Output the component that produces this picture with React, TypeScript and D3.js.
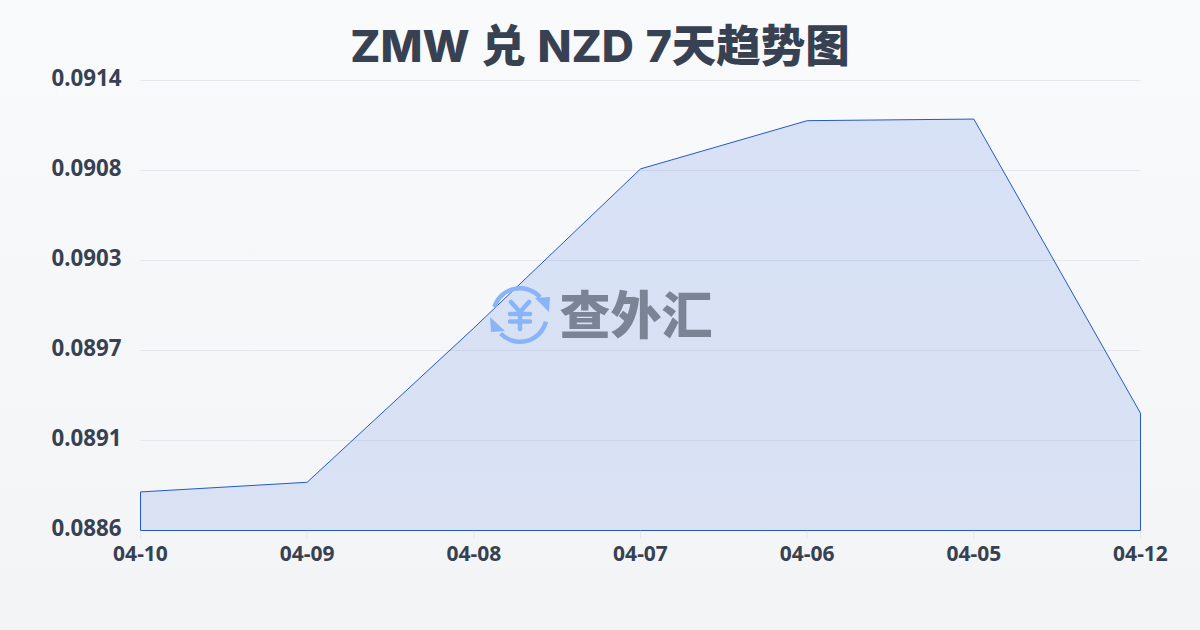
import React from "react";
import * as d3 from "d3";

const categories = ["04-10", "04-09", "04-08", "04-07", "04-06", "04-05", "04-12"];
const rates = [0.08884, 0.0889, 0.08986, 0.09085, 0.09115, 0.09116, 0.08933];
const yTickLabels = ["0.0914", "0.0908", "0.0903", "0.0897", "0.0891", "0.0886"];
const yTickValues = [0.0914, 0.09084, 0.09028, 0.08972, 0.08916, 0.0886];
const titleText = "ZMW 兑 NZD 7天趋势图";
const watermarkText = "查外汇";

const W = 1200, H = 630;
const LEFT = 140.5, RIGHT = 1140.5, TOP = 80.5, BOTTOM = 530.5;
const TITLE_FONT = "Inter, 'Noto Sans CJK SC', sans-serif";
const FONT = "'Noto Sans', sans-serif";

export default function App() {
  const x = d3.scalePoint<string>().domain(categories).range([LEFT, RIGHT]);
  const y = d3.scaleLinear().domain([0.0886, 0.0914]).range([BOTTOM, TOP]);
  const pts = categories.map((c, i) => ({ c, v: rates[i] }));
  const area = d3.area<{ c: string; v: number }>()
    .x((d) => x(d.c)!)
    .y0(BOTTOM)
    .y1((d) => y(d.v))(pts)!;
  const outline = `${area}Z`;

  const ring = d3.arc();
  const arcA = ring({ innerRadius: 24.5, outerRadius: 29, startAngle: -1.27, endAngle: 0.85, cornerRadius: 2.2 })!;
  const arcB = ring({ innerRadius: 24.5, outerRadius: 29, startAngle: 1.82, endAngle: 3.95, cornerRadius: 2.2 })!;

  return (
    <svg width={W} height={H} viewBox={`0 0 ${W} ${H}`}
      style={{ position: "fixed", left: 0, top: 0, display: "block" }}>
      <defs>
        <linearGradient id="bg" x1="0" y1="0" x2="0" y2="1">
          <stop offset="0" stopColor="#f9fafc" />
          <stop offset="1" stopColor="#f3f4f6" />
        </linearGradient>
        <linearGradient id="fill" x1="0" y1="0" x2="0" y2="1">
          <stop offset="0" stopColor="#1f5ad8" stopOpacity={0.15} />
          <stop offset="1" stopColor="#1f5ad8" stopOpacity={0.125} />
        </linearGradient>
      </defs>
      <rect width={W} height={H} fill="url(#bg)" />
      <text x={600} y={62} textAnchor="middle" fontFamily={TITLE_FONT} fontWeight={800} fontSize={44.5} wordSpacing={2} fill="#374151">
        {titleText}
      </text>
      {yTickValues.map((v, i) => (
        <g key={i}>
          {i < yTickValues.length - 1 && (
            <line x1={LEFT} x2={RIGHT} y1={y(v)} y2={y(v)} stroke="#e5e7eb" strokeWidth={1} />
          )}
          <text x={121.5} y={y(v) + 5.5} textAnchor="end" fontFamily={FONT} fontWeight={700} fontSize={22.3} fill="#374151">
            {yTickLabels[i]}
          </text>
        </g>
      ))}
      <path d={outline} fill="url(#fill)" stroke="#2558c8" strokeWidth={1} />
      {categories.map((c) => (
        <g key={c}>
          <line x1={x(c)} x2={x(c)} y1={BOTTOM + 1} y2={BOTTOM + 8} stroke="#e5e7eb" strokeWidth={1} />
          <text x={x(c)} y={560.5} textAnchor="middle" fontFamily={FONT} fontWeight={700} fontSize={21} fill="#374151">
            {c}
          </text>
        </g>
      ))}
      <g transform="translate(520,315)" fill="#8ab4f8">
        <path d={arcA} />
        <path d={arcB} />
        <path d="M15,-17 L30,-18 L29,-3 Z" />
        <path d="M-15,16 L-30,2 L-29,17 Z" />
        <path d="M-9,-13 L0,-3 L9,-13 M-10,-1 H10 M-10,6.5 H10 M0,-3 V14" fill="none" stroke="#8ab4f8" strokeWidth={4.5} strokeLinecap="round" strokeLinejoin="round" />
      </g>
      <text x={636} y={334} textAnchor="middle" fontFamily="'Noto Sans CJK SC', sans-serif" fontWeight={900} fontSize={51} fill="#7b8494">
        {watermarkText}
      </text>
    </svg>
  );
}
